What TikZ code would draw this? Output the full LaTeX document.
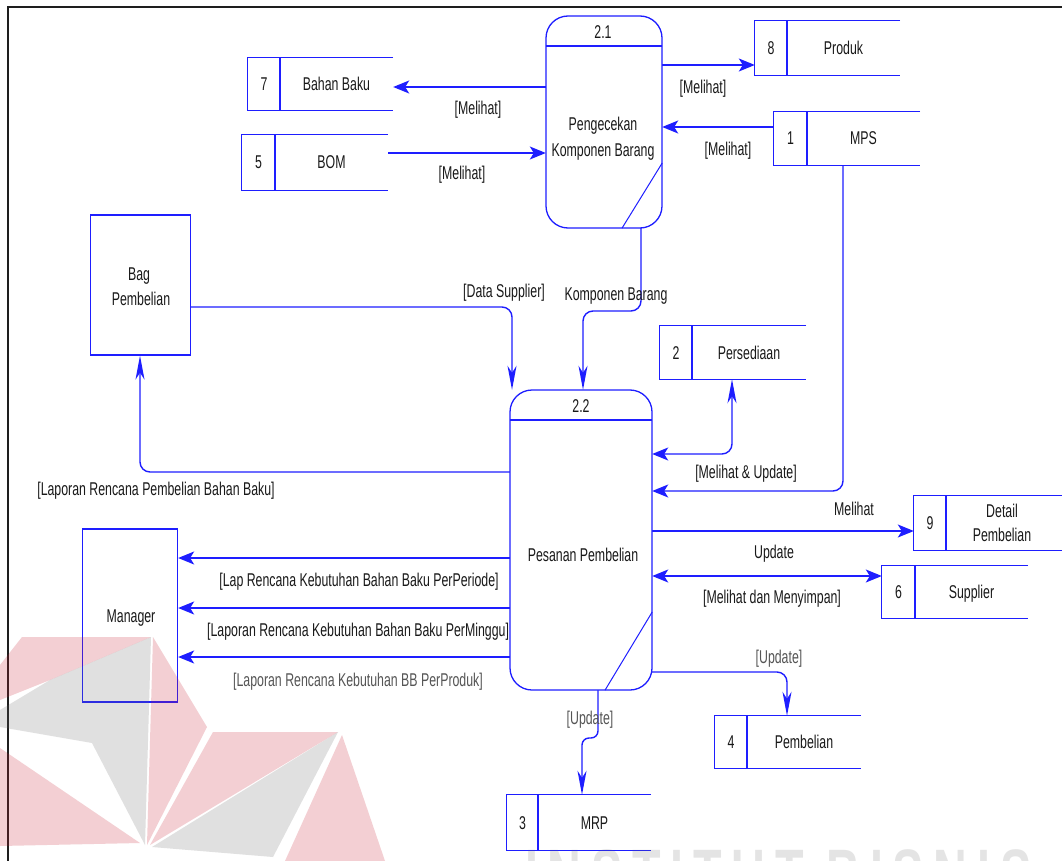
\documentclass[tikz,border=0pt]{standalone}
\usepackage{fontspec}
\setmainfont{Liberation Sans}
\newfontfamily\dfdfont[FakeStretch=0.667]{Liberation Sans}
\newfontfamily\wmfont[FakeStretch=0.667,LetterSpace=14]{Liberation Sans}
\usetikzlibrary{arrows.meta}

\definecolor{dfdblue}{RGB}{30,30,255}
\definecolor{txtcol}{RGB}{25,25,25}
\definecolor{softtxt}{RGB}{85,85,85}
\definecolor{framecol}{RGB}{30,30,30}
\definecolor{wmred}{RGB}{200,30,50}
\definecolor{wmgray}{RGB}{100,100,100}

\tikzset{
  hstealth/.tip={Stealth[length=16pt,width=13pt,inset=4pt]},
  vstealth/.tip={Stealth[length=24pt,width=9pt,inset=7pt]},
  shapeline/.style={draw=dfdblue, line width=1.3pt},
  flow/.style={draw=dfdblue, line width=1.4pt, rounded corners=10pt},
  txt/.style={font=\dfdfont\fontsize{18.5}{22}\selectfont, text=txtcol,
              inner sep=0pt, text height=13pt, text depth=0pt},
  softlbl/.style={txt, text=softtxt},
  proc/.style={shapeline, fill=white, rounded corners=22pt, inner sep=0pt},
  entity/.style={shapeline, inner sep=0pt},
}

% data store: name, left, top, right, bottom, divider x, id, title
\newcommand\dstore[8]{%
  \node[inner sep=0pt, minimum width={#4-#2}, minimum height={#5-#3}] (#1) at ({(#2+#4)/2},{(#3+#5)/2}) {};
  \draw[shapeline] (#1.north east) -- (#1.north west) -- (#1.south west) -- (#1.south east);
  \draw[shapeline] (#6,#3) -- (#6,#5);
  \node[txt] (#1-id) at ({(#2+#6)/2},{(#3+#5)/2}) {#7};
  \node[txt] (#1-title) at ({(#6+#4)/2},{(#3+#5)/2}) {#8};
}

\begin{document}
\begin{tikzpicture}[x=1pt, y=-1pt]
\useasboundingbox (0,0) rectangle (1062,861);
\fill[white] (0,0) rectangle (1062,861);

% page frame
\draw[framecol, line width=2pt] (8,861) -- (8,7) -- (1062,7);

% data stores
\dstore{bb}{248}{58}{393}{110}{280}{7}{Bahan Baku}
\dstore{bom}{242}{135}{388}{190}{275}{5}{BOM}
\dstore{prod}{755}{21}{900}{75}{787}{8}{Produk}
\dstore{mps}{774}{112}{920}{165}{807}{1}{MPS}
\dstore{pers}{660}{326}{806}{379}{692}{2}{Persediaan}
\dstore{det}{914}{496}{1062}{550}{946}{9}{}
\node[txt] (det-t1) at (1002,511) {Detail};
\node[txt] (det-t2) at (1002,535) {Pembelian};
\dstore{sup}{882}{566}{1028}{618}{915}{6}{Supplier}
\dstore{pem}{715}{716}{861}{768}{747}{4}{Pembelian}
\dstore{mrp}{507}{795}{651}{850}{538}{3}{MRP}

% external entities
\node[entity, minimum width=100pt, minimum height=140pt] (bag) at (140.5,285) {};
\node[txt] (bag-t1) at (139,274) {Bag};
\node[txt] (bag-t2) at (141,299) {Pembelian};
\node[entity, minimum width=95pt, minimum height=173pt] (mgr) at (130,615.5) {};
\node[txt] (mgr-t) at (131,616) {Manager};

% process placeholders (drawn later on top)
\path (604,122) node[inner sep=0pt, minimum width=116pt, minimum height=212pt] (p21) {};
\path (581,540) node[inner sep=0pt, minimum width=142pt, minimum height=300pt] (p22) {};

% flows around process 2.1
\draw[flow, -hstealth] (p21.west |- 0,87) -- (bb.east |- 0,87);
\draw[flow, -hstealth] (bom.east |- 0,153) -- (p21.west |- 0,153);
\draw[flow, -hstealth] (p21.east |- 0,65) -- (prod.west |- 0,65);
\draw[flow, -hstealth] (mps.west |- 0,127) -- (p21.east |- 0,127);
\draw[flow, -vstealth] (p21.south -| 641,0) -- (641,311) -- (583,311) -- (p22.north -| 583,0);

% flows around process 2.2
\draw[flow, -vstealth] (bag.east |- 0,307) -- (512,307) -- (p22.north -| 512,0);
\draw[flow, -vstealth] (p22.west |- 0,472) -- (140,472) -- (bag.south -| 140,0);
\draw[flow, hstealth-vstealth] (p22.east |- 0,454) -- (732,454) -- (pers.south -| 732,0);
\draw[flow, -hstealth] (mps.south -| 843,0) -- (843,491) -- (p22.east |- 0,491);
\draw[flow, -hstealth] (p22.east |- 0,531) -- (det.west |- 0,531);
\draw[flow, hstealth-hstealth] (p22.east |- 0,576) -- (sup.west |- 0,576);
\draw[flow, -vstealth] (p22.east |- 0,672) -- (787,672) -- (pem.north -| 787,0);
\draw[flow, rounded corners=7pt, -vstealth] (p22.south -| 598,0) -- (598,738) -- (582,738) -- (mrp.north -| 582,0);
\draw[flow, -hstealth] (p22.west |- 0,558) -- (mgr.east |- 0,558);
\draw[flow, -hstealth] (p22.west |- 0,608) -- (mgr.east |- 0,608);
\draw[flow, -hstealth] (p22.west |- 0,657) -- (mgr.east |- 0,657);

% flow labels
\node[txt] (l1) at (478,108) {[Melihat]};
\node[txt] (l2) at (462,173) {[Melihat]};
\node[txt] (l3) at (703,87) {[Melihat]};
\node[txt] (l4) at (728,149) {[Melihat]};
\node[txt] (l5) at (616,294) {Komponen Barang};
\node[txt] (l6) at (504,291) {[Data Supplier]};
\node[txt] (l7) at (156,489) {[Laporan Rencana Pembelian Bahan Baku]};
\node[txt] (l8) at (746,472) {[Melihat \& Update]};
\node[txt] (l9) at (854,509) {Melihat};
\node[txt] (l10) at (774,552) {Update};
\node[txt] (l11) at (772,597) {[Melihat dan Menyimpan]};
\node[softlbl] (l12) at (779,657) {[Update]};
\node[softlbl] (l13) at (590,718) {[Update]};
\node[txt] (l14) at (359,580) {[Lap Rencana Kebutuhan Bahan Baku PerPeriode]};
\node[txt, anchor=west] (l15) at (207,630) {[Laporan Rencana Kebutuhan Bahan Baku PerMinggu]};
\node[softlbl] (l16) at (358,680) {[Laporan Rencana Kebutuhan BB PerProduk]};

% process 2.1
\node[proc, minimum width=116pt, minimum height=212pt] (p21box) at (p21) {};
\draw[shapeline] (p21.west |- 0,46) -- (p21.east |- 0,46);
\draw[shapeline, line width=1pt] (p21.east |- 0,163) -- (p21.south -| 622,0);
\node[txt] (p21-id) at (603,32) {2.1};
\node[txt] (p21-t1) at (603,124) {Pengecekan};
\node[txt] (p21-t2) at (603,150) {Komponen Barang};

% process 2.2
\node[proc, minimum width=142pt, minimum height=300pt] (p22box) at (p22) {};
\draw[shapeline] (p22.west |- 0,420) -- (p22.east |- 0,420);
\draw[shapeline, line width=1pt] (p22.east |- 0,612) -- (p22.south -| 605,0);
\node[txt] (p22-id) at (581,406) {2.2};
\node[txt] (p22-t) at (583,555) {Pesanan Pembelian};

% faint logo and lettering over the lower part
\begin{scope}[opacity=0.21]
  \fill[wmred] (22,637) -- (151,637) -- (50,680) -- (0,700) -- (0,665) -- cycle;
  \fill[wmred] (153,637) -- (207,727) -- (147,845) -- cycle;
  \fill[wmred] (0,748) -- (140,843) -- (0,846) -- cycle;
  \fill[wmred] (213,732) -- (338,732) -- (150,845) -- cycle;
  \fill[wmred] (342,735) -- (385,861) -- (285,861) -- cycle;
\end{scope}
\begin{scope}[opacity=0.2]
  \fill[wmgray] (151,637) -- (50,680) -- (0,710) -- (0,727) -- (92,743) -- (145,845) -- cycle;
  \fill[wmgray] (338,732) -- (152,847) -- (273,857) -- cycle;
\end{scope}
\node[anchor=base west, inner sep=0pt,
      font=\wmfont\bfseries\fontsize{70}{70}\selectfont, text=wmgray, text opacity=0.17]
      (wm) at (525,898) {INSTITUT BISNIS};
\end{tikzpicture}
\end{document}
